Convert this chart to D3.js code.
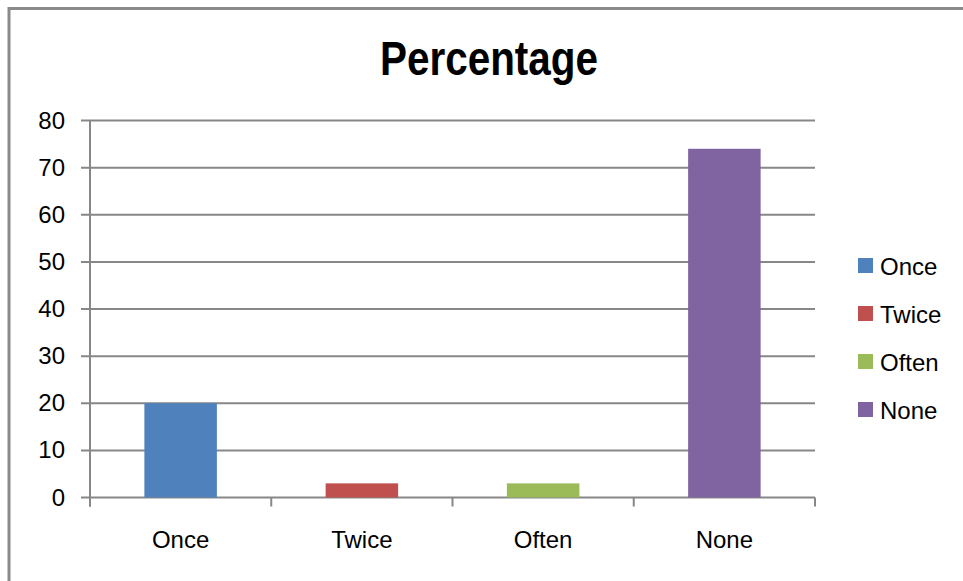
<!DOCTYPE html>
<html>
<head>
<meta charset="utf-8">
<script src="https://cdn.jsdelivr.net/npm/d3@7"></script>
<style>
  html, body { margin: 0; padding: 0; background: #fff; }
  svg { display: block; }
  text { font-family: "Liberation Sans", Arial, sans-serif; fill: #000; }
</style>
</head>
<body>
<svg id="chart" width="963" height="581"></svg>
<script>
// Survey results: share of respondents by frequency
const categories = ["Once", "Twice", "Often", "None"];
const values = [20, 3, 3, 74];
const colors = ["#4F81BD", "#C0504D", "#9BBB59", "#8064A2"];
const yTicks = [0, 10, 20, 30, 40, 50, 60, 70, 80];
const title = "Percentage";

const svg = d3.select("#chart");
const gridColor = "#878787";

// Chart frame
svg.append("rect")
  .attr("x", 9).attr("y", 8.5)
  .attr("width", 1000).attr("height", 1000)
  .attr("fill", "none")
  .attr("stroke", "#8a8a8a")
  .attr("stroke-width", 3);

const plot = { left: 90, right: 815, top: 120.5, bottom: 497.5 };

const x = d3.scaleBand()
  .domain(categories)
  .range([plot.left, plot.right])
  .paddingInner(0.6)
  .paddingOuter(0.3);

const y = d3.scaleLinear()
  .domain([0, 80])
  .range([plot.bottom, plot.top]);

// Title, condensed to a narrow bold face
svg.append("text")
  .attr("x", 380)
  .attr("y", 75)
  .attr("textLength", 218)
  .attr("lengthAdjust", "spacingAndGlyphs")
  .style("font-weight", "bold")
  .style("font-size", "49px")
  .text(title);

// Horizontal gridlines with short ticks to the left of the axis
svg.append("g")
  .selectAll("line")
  .data(yTicks)
  .join("line")
  .attr("x1", plot.left - 9)
  .attr("x2", plot.right)
  .attr("y1", d => y(d))
  .attr("y2", d => y(d))
  .attr("stroke", gridColor)
  .attr("stroke-width", 2);

// Y tick labels
svg.append("g")
  .selectAll("text")
  .data(yTicks)
  .join("text")
  .attr("x", 65)
  .attr("y", d => y(d) + 8)
  .attr("text-anchor", "end")
  .style("font-size", "24px")
  .text(d => d);

// Bars
svg.append("g")
  .selectAll("rect")
  .data(values)
  .join("rect")
  .attr("x", (d, i) => x(categories[i]))
  .attr("width", x.bandwidth())
  .attr("y", d => y(d))
  .attr("height", d => y(0) - y(d))
  .attr("fill", (d, i) => colors[i]);

// Y axis line
svg.append("line")
  .attr("x1", plot.left).attr("x2", plot.left)
  .attr("y1", plot.top).attr("y2", plot.bottom + 9)
  .attr("stroke", gridColor)
  .attr("stroke-width", 2);

// X axis tick marks at category boundaries
const step = (plot.right - plot.left) / categories.length;
const boundaries = d3.range(categories.length + 1).map(i => plot.left + i * step);
svg.append("g")
  .selectAll("line")
  .data(boundaries)
  .join("line")
  .attr("x1", d => d).attr("x2", d => d)
  .attr("y1", plot.bottom).attr("y2", plot.bottom + 9)
  .attr("stroke", gridColor)
  .attr("stroke-width", 2);

// X category labels
svg.append("g")
  .selectAll("text")
  .data(categories)
  .join("text")
  .attr("x", d => x(d) + x.bandwidth() / 2)
  .attr("y", 548)
  .attr("text-anchor", "middle")
  .style("font-size", "24px")
  .text(d => d);

// Legend
const legend = svg.append("g")
  .selectAll("g")
  .data(categories)
  .join("g")
  .attr("transform", (d, i) => `translate(858, ${258 + i * 48})`);
legend.append("rect")
  .attr("width", 15).attr("height", 15)
  .attr("fill", (d, i) => colors[i]);
legend.append("text")
  .attr("x", 22)
  .attr("y", 17)
  .style("font-size", "24px")
  .text(d => d);
</script>
</body>
</html>
